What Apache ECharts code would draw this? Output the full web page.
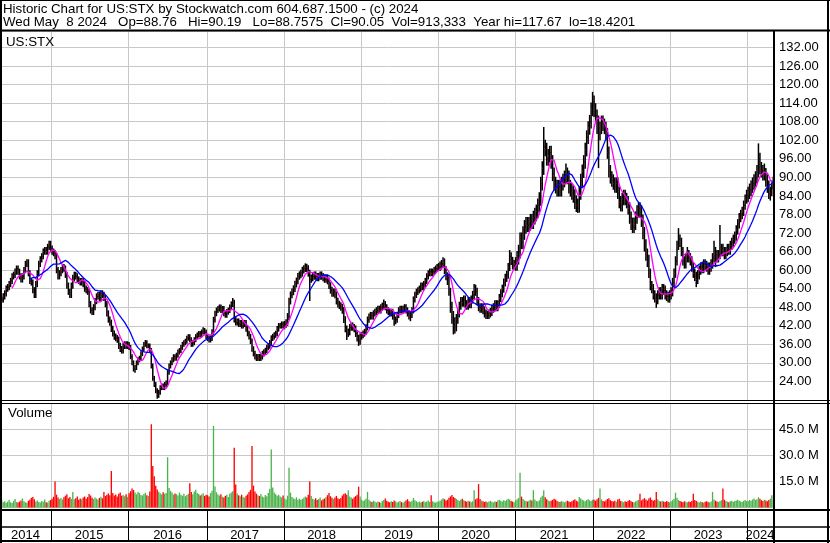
<!DOCTYPE html>
<html><head><meta charset="utf-8">
<script src="https://cdn.jsdelivr.net/npm/echarts@6/dist/echarts.min.js"></script>
<style>html,body{margin:0;padding:0;background:#fff}#c{width:830px;height:543px}</style>
</head><body><div id="c"></div><script>
// Weekly closes (USD), one line per year 2014..2024
const closePrices = [
50.5,51.5,52.5,54,54.5,55.5,56.5,58,58.5,59.5,60.5,59.5,58,57,58,60,62,62.5,59,56.5,56,53.5,52,55.5,59,62,63.5,64.5,66,66.5,66,67.5,68.5,67,
66,65.5,64.5,60,58,59,60,61,60.5,58.5,55,53,52,55,57.5,58.5,58,57,56.5,56,56.5,55.5,54,53.5,53,49,47,46.5,48,50,51.5,52,51,52.5,52,51,49,46,44,43,41,39.5,38.5,38,37.5,35.5,34.5,34,35.5,36,35.5,36,
35,32,30,28,28.5,30,31,31.5,33,34.5,36,36.5,35.5,35.5,34,29,25,23,21,19.5,20.5,22,22.5,22,23,23.5,27,29,30,31,32,31.5,32.5,33.5,34,35,36,36.5,37,38,38.5,37.5,36,36.5,37.5,38.5,39,39.5,39,40,40.5,40,38.5,
38,37.5,38,40,44,46,47,47.5,48,47,47.5,46,45.5,46.5,47,48,49,49.5,44,43,43.5,42.5,43,42,42.5,43,41,39.5,38.5,37,34.5,33,32,31.5,32,31.5,32,33,33.5,34,35,35.5,36.5,38,38.5,39,39.5,41,42,42,42.5,42,
42.5,43,45,50,52,53,54,55.5,56.5,58,58.5,59,60,60.5,61,60.5,59,57,57.5,58,58.5,58,57.5,58,58.5,58,57.5,57,57.5,56.5,55,53.5,52.5,53,52,50,49,48.5,48,47,44,41,39.5,40,41.5,42,41.5,41,39.5,38,37,38.5,
39,39.5,40,41.5,44,45,45.5,45,46,46.5,47,47.5,47,48,48.5,49,48,47,46.5,46,46.5,45,43.5,44,45.5,47,47.5,47,47.5,48,47,46,45,45.5,47,50.5,52,53,53.5,54,55,54.5,55.5,56.5,58,59,59.5,59,59.5,60,60.5,61,
61,61.5,62,62.5,60,58,57.5,53,48,45,42,41.5,44,46,48.5,50,49.5,50.5,49,48.5,50,49,50.5,52,54,53,50,48,47.5,48,47,46,45.5,45.5,46,46.5,47.5,48,49,48,49,51,52.5,54,56,57.5,58.5,61,64.5,63,61.5,62,
62,64,66,70,69,72,74,75,74.5,75,76,75.5,77,78,79,81,83,88,93,100,99,96,97,98,95,91,88,87,86,87,86,88,89,90,91,90,87,86,85,84,82,81,80,85,89,92,95,99,103,106,108,112,114,
112,110,108,104,106,108,107,106,104,98,92,90,89,88,87,88,85,82,81,83,84,83,82,80,77,75,74,75,77,79,80,79,76,72,68,65,63,59,55,54,52,51,50.5,52,53,52,54,53.5,52,51.5,51,52,
53,56,59,63,68,70,69,66,63,62,64,65,64,63,61,59,58,57,58.5,60,61,60.5,62,61.5,61,60,61,62,64,66,65,64,65,66,67,66,65,66,67,66.5,68,69,70,71,73,75,77,78,79,81,83,84,
85,86,87,88,89,90,92,96,93,92,91,91,89,87,85,85,87,90.05
];
// Weekly highs
const highPrices = [
51.5,52.5,53.5,55,55.5,56.5,57.5,59,59.5,60.5,61.5,61.5,60.5,59,59,61,63,63.5,63.5,60,57.5,57,54.5,56.5,60,63,64.5,65.5,67,67.5,67.5,68.5,69.5,69.5,
68,67,66.5,65.5,61,60,61,62,62,61.5,59.5,56,54,56,58.5,59.5,59.5,59,58,57.5,57.5,57.5,56.5,55,54.5,54,50,48,49,51,52.5,53,53,53.5,53.5,53,52,50,47,45,44,42,40.5,39.5,39,38.5,36.5,35.5,36.5,37,37,37,
36.8,35.8,32.8,30.8,29.3,30.8,31.8,32.3,33.8,35.3,36.8,37.4,37.3,36.3,36.3,34.8,29.8,25.8,23.8,21.8,21.3,22.8,23.3,23.3,23.8,24.3,27.8,29.8,30.8,31.8,32.8,32.8,33.3,34.3,34.8,35.8,36.8,37.3,37.8,38.8,39.3,39.3,38.3,37.3,38.3,39.3,39.8,40.3,40.3,40.8,41.5,41.3,40.8,
39.4,38.9,38.9,40.9,44.9,46.9,47.9,48.4,48.9,48.9,48.4,48.4,46.9,47.4,47.9,48.9,49.9,51,50.4,44.9,44.4,44.4,43.9,43.9,43.4,43.9,43.9,41.9,40.4,39.4,37.9,35.4,33.9,32.9,32.9,32.9,32.9,33.9,34.4,34.9,35.9,36.4,37.4,38.9,39.4,39.9,40.4,41.9,42.9,42.9,43.4,43.4,
43.6,44.1,46.1,51.1,53.1,54.1,55.1,56.6,57.6,59.1,59.6,60.1,61.1,61.6,62.2,62.1,61.6,60.1,58.6,59.1,59.6,59.6,59.1,59.1,59.6,59.6,59.1,58.6,58.6,58.6,57.6,56.1,54.6,54.1,54.1,53.1,51.1,50.1,49.6,49.1,48.1,45.1,42.1,41.1,42.6,43.1,43.1,42.6,42.1,40.6,39.1,39.6,
40,40.5,41,42.5,45,46,46.5,46.5,47,47.5,48,48.5,48.5,49,49.5,50.5,50,49,48,47.5,47.5,47.5,46,45,46.5,48,48.5,48.5,48.5,49,49,48,47,46.5,48,51.5,53,54,54.5,55,56,56,56.5,57.5,59,60,60.5,60.5,60.5,61,61.5,62,
62.3,62.8,63.3,64.2,63.8,61.3,59.3,58.8,54.3,49.8,46.8,44.8,45.8,47.3,49.8,51.3,51.3,51.8,51.8,50.3,51.3,51.3,51.8,53.3,55.5,55.3,54.3,51.3,49.3,49.3,49.3,48.3,47.3,46.8,47.3,47.8,48.8,49.3,50.3,50.3,50.3,52.3,53.8,55.3,57.3,58.8,59.8,62.3,66.5,65.8,64.3,63.3,
64.2,66.2,68.2,72.2,72.2,74.2,76.2,77.2,77.2,77.2,78.2,78.2,79.2,80.2,81.2,83.2,85.2,90.2,95.2,106.3,102.2,101.2,99.2,100.2,100.2,97.2,93.2,90.2,89.2,89.2,89.2,90.2,91.2,92.2,94.5,93.2,92.2,89.2,88.2,87.2,86.2,84.2,83.2,87.2,91.2,94.2,97.2,101.2,105.2,108.2,110.2,114.2,117.67,
116.5,114,112,110,108,110,110,109,108,106,100,94,92,91,90,90,90,87,84,85,86,86,85,84,82,79,77,77,79,81,82,82,81,78,74,70,67,65,60.5,56.5,55.5,53.5,52.5,53.5,54.5,54.5,55.5,55.5,55,53.5,53,53.5,
54.5,57.5,60.5,64.5,69.5,73.6,71.5,70.5,67.5,64.5,65.5,67.5,66.5,65.5,64.5,62.5,60.5,59.5,60,61.5,62.5,62.5,63.5,63.5,63,62.5,62.5,63.5,65.5,69.5,67.5,66.5,66.5,74.6,68.5,68.5,67.5,67.5,68.5,68.5,69.5,70.5,71.5,72.5,74.5,76.5,78.5,79.5,80.5,82.5,84.5,86,
87,88,89,90,91,92,94,101,98,95,94,94.5,93,91,89,87,89,90.19
];
// Weekly lows
const lowPrices = [
49.5,49.5,50.5,51.5,53,53.5,54.5,55.5,57,57.5,58.5,58.5,57,56,56,57,59,61,58,55.5,55,52.5,51,51,54.5,58,61,62.5,63.5,65,65,65,66.5,66,
65,64.5,63.5,59,57,57,58,59,59.5,57.5,54,52,51,51,54,56.5,57,56,55.5,55,55,54.5,53,52.5,52,48,46,45.5,45.5,47,49,50.5,50,50,51,50,48,45,43,42,40,38.5,37.5,37,36.5,34.5,33.5,33,33,34.5,34.5,34.5,
34.2,31.2,29.2,27.2,26.8,27.7,29.2,30.2,30.7,32.2,33.7,35.2,34.7,34.7,33.2,28.2,24.2,22.2,20.2,18.42,18.7,19.7,21.2,21.2,21.2,22.2,22.7,26.2,28.2,29.2,30.2,30.7,30.7,31.7,32.7,33.2,34.2,35.2,35.7,36.2,37.2,36.7,35.2,35.2,35.7,36.7,37.7,38.2,38.2,38.2,39.2,39.2,37.7,
37.1,36.6,36.6,37.1,39.1,43.1,45.1,46.1,46.6,46.1,46.1,45.1,44.6,44.6,45.6,46.1,47.1,48.1,43.1,42.1,42.1,41.6,41.6,41.1,41.1,41.6,40.1,38.6,37.6,36.1,33.6,32.1,31.1,30.6,30.6,30.6,30.6,31.1,32.1,32.6,33.1,34.1,34.6,35.6,37.1,37.6,38.1,38.6,40.1,41.1,41.1,41.1,
40.9,41.4,41.9,43.9,48.9,50.9,51.9,52.9,54.4,55.4,56.9,57.4,57.9,58.9,59.4,59.4,57.9,50,55.9,56.4,56.9,56.9,56.4,56.4,56.9,56.9,56.4,55.9,55.9,55.4,53.9,52.4,51.4,51.4,50.9,48.9,47.9,47.4,46.9,45.9,42.9,39.9,37.4,38.4,38.9,40.4,40.4,39.9,38.4,36.9,35.5,35.9,
37.5,38,38.5,39,40.5,43,44,44,44,45,45.5,46,46,46,47,47.5,47,46,45.5,45,45,44,42,42.5,43,44.5,46,46,46,46.5,46,45,44,43.5,44.5,46,49.5,51,52,52.5,53,53.5,53.5,54.5,55.5,57,58,58,58,58.5,59,59.5,
59.7,59.7,60.2,60.7,58.7,56.7,55.2,51.7,46.2,42.7,39.2,39.5,40.2,42.7,44.7,47.2,48.2,48.2,47.7,47.2,47.2,47.7,47.7,49.2,50.7,51.7,48.7,46.7,46.2,46.2,45.7,44.7,44.2,44.2,44.2,44.7,45.2,46.2,46.7,46.7,46.7,47.7,49.7,51.2,52.7,54.7,56.2,57.2,59.7,61.7,60.2,60.2,
59.8,59.8,61.8,63.8,66.8,66.8,69.8,71.8,72.3,72.3,72.8,73.3,73.3,74.8,75.8,76.8,78.8,80.8,85.8,90.8,96.8,93.8,93.8,94.8,92.8,88.8,85.8,84.8,83.8,83.8,83.8,83.8,85.8,86.8,87.8,87.8,84.8,83.8,82.8,81.8,79.8,78.8,78.5,78.6,82.8,86.8,89.8,92.8,96.8,100.8,103.8,105.8,109.8,
109.5,108,104,93,102,104,105,104,102,96,90,88,87,86,85,85,83,80,79,79,81,81,80,78,75,73,72,72,73,75,77,77,74,70,66,63,61,57.5,53.5,52.5,50.5,49.5,47.8,49,50.5,50.5,50.5,52,50.5,50,49.5,49.5,
50.5,51.5,54.5,57.5,61.5,66.5,67.5,64.5,61.5,60.5,60.5,62.5,62.5,61.5,59.5,57.5,56.5,54.5,55.5,57,58.5,59,59,60,59.5,58.5,58.5,59.5,60.5,62.5,61,62.5,62.5,63.5,64.5,64.5,63.5,63.5,64.5,65,65,66.5,67.5,68.5,69.5,71.5,73.5,75.5,76.5,77.5,79.5,81.5,
82,83,84,85,86,87,88,90,91,90,89,89,87,85,83,82.5,84,86
];
// Peak daily volume of each week (millions of shares)
const volumesM = [
4.2,3.1,3.6,2.8,3.3,4.5,3.0,2.6,3.8,4.9,3.2,2.9,3.4,4.1,5.2,3.6,3.0,2.7,3.9,4.4,5.6,6.1,4.8,3.5,4.0,3.2,2.9,3.7,3.3,4.6,3.1,2.8,3.9,4.3,
5.1,6.2,15.0,7.4,5.8,4.9,5.5,4.6,5.9,6.8,7.6,5.3,6.1,5.0,9.0,4.7,5.4,6.3,4.5,5.2,4.8,5.7,6.4,5.0,6.0,7.8,6.9,5.6,4.9,5.8,5.1,4.6,5.5,6.2,5.3,9.0,6.6,7.3,8.1,7.0,21.0,8.4,6.9,7.5,6.3,7.9,8.6,6.8,7.2,6.5,7.7,6.1,
8.2,9.4,11.0,10.1,8.7,7.6,9.0,8.3,7.2,6.9,7.8,8.5,7.1,6.6,9.3,48.0,24.0,18.0,12.5,10.4,9.1,8.2,7.5,8.8,7.9,8.4,29.0,11.2,9.6,8.7,7.4,8.1,7.7,6.9,8.6,7.3,6.8,7.9,6.5,7.2,8.0,14.0,8.9,7.6,9.2,10.3,8.4,7.8,6.9,7.5,8.2,6.7,7.4,
7.1,6.4,8.3,9.6,47.0,12.1,8.8,7.5,6.9,7.7,6.2,5.8,6.7,7.3,6.0,7.9,8.6,9.4,34.5,13.2,8.1,7.0,6.5,7.4,6.1,5.7,6.8,7.6,8.9,10.2,35.5,12.6,9.3,8.0,7.1,6.6,7.8,6.3,5.9,7.2,6.5,8.4,10.8,33.5,11.5,8.7,7.6,6.8,7.3,6.4,5.8,6.9,
5.2,4.6,6.8,23.0,8.6,6.1,5.3,4.8,5.9,4.5,5.1,4.4,4.9,5.6,6.4,5.8,7.3,15.0,6.7,5.0,4.6,5.4,4.3,4.9,5.7,4.1,4.8,5.2,6.0,7.1,8.4,6.5,5.6,4.9,5.8,6.7,5.3,4.8,5.5,6.9,7.8,8.2,7.3,10.0,6.4,5.7,5.1,5.9,6.6,7.4,12.0,6.3,
4.6,3.8,4.2,5.1,9.0,4.4,3.6,3.2,3.9,3.4,2.9,3.5,3.1,2.8,3.7,4.3,5.2,3.9,3.3,3.0,3.6,3.2,4.1,3.5,2.9,3.3,3.8,3.1,2.7,3.4,4.0,4.8,3.6,3.2,3.9,5.5,4.2,3.6,3.1,3.4,2.9,3.3,3.7,3.0,3.5,4.0,3.2,7.0,3.6,3.1,2.8,3.3,
3.4,3.9,4.6,5.3,4.8,4.1,4.5,5.6,6.4,7.2,6.1,5.5,4.9,4.3,3.8,4.4,5.0,4.2,3.7,3.3,3.9,3.5,3.1,3.6,10.0,4.7,5.3,13.5,4.9,4.0,3.6,3.2,3.5,3.0,3.4,3.8,3.3,2.9,3.6,3.2,4.1,4.5,3.9,3.5,4.2,3.7,4.4,5.0,4.6,3.8,3.4,3.1,
4.2,4.8,5.5,20.0,6.3,4.9,4.1,3.7,3.4,3.9,4.5,4.0,10.0,4.6,3.8,3.5,4.2,5.7,6.8,10.0,5.9,4.7,4.1,3.6,3.9,4.4,5.1,4.6,3.8,3.4,3.2,3.7,3.3,3.0,3.5,3.9,3.4,3.1,3.6,4.2,4.7,3.9,3.5,6.1,5.2,4.4,4.0,3.6,4.3,4.8,4.1,3.7,4.5,
4.4,3.9,4.8,5.6,11.0,4.7,3.8,3.5,4.1,4.9,5.3,4.2,3.7,3.4,3.9,3.3,4.6,5.1,3.8,3.4,3.1,3.6,3.2,3.9,4.3,3.6,3.2,2.9,3.5,4.0,4.4,8.0,4.1,4.8,5.4,4.6,4.0,5.2,5.8,4.5,3.9,4.3,9.0,4.7,3.8,3.4,3.9,3.5,3.2,3.7,3.3,3.0,
3.6,4.2,5.1,8.5,5.6,4.4,3.8,3.4,3.1,3.6,3.3,3.0,3.5,3.2,3.8,8.0,4.3,3.7,3.3,3.0,3.4,3.1,2.8,3.3,3.6,3.2,2.9,3.5,9.0,4.6,3.9,3.4,3.1,3.7,4.2,11.0,4.5,3.8,3.4,3.0,3.6,3.9,3.3,3.7,4.1,4.5,3.9,3.5,3.2,3.8,4.3,3.6,
3.8,4.3,3.9,4.6,5.2,4.4,4.8,5.9,5.1,4.2,3.8,4.5,4.0,3.6,4.3,5.0,7.0,4.6
];
const headerLine1 = 'Historic Chart for US:STX by Stockwatch.com 604.687.1500 - (c) 2024';
const headerLine2 = 'Wed May  8 2024   Op=88.76   Hi=90.19   Lo=88.7575  Cl=90.05  Vol=913,333  Year hi=117.67  lo=18.4201';
const symbolLabel = 'US:STX';
const volumeLabel = 'Volume';
const startWeek = Date.UTC(2014, 4, 9);
const shortMA = 8, longMA = 20;

// week categories (Fridays)
const weeks = closePrices.map((_, i) => new Date(startWeek + i * 7 * 86400000).toISOString().slice(0, 10));
const yearStart = new Set();
const yearMid = new Set();
let segStart = 0;
for (let i = 1; i <= weeks.length; i++) {
  if (i === weeks.length || weeks[i].slice(0, 4) !== weeks[i - 1].slice(0, 4)) {
    if (i < weeks.length) yearStart.add(i);
    yearMid.add(Math.floor((segStart + i - 1) / 2));
    segStart = i;
  }
}
function sma(arr, n) {
  return arr.map((v, i) => {
    if (i < n - 1) return null;
    let s = 0; for (let k = i - n + 1; k <= i; k++) s += arr[k];
    return +(s / n).toFixed(3);
  });
}
const FONT = '"Liberation Sans", Arial, sans-serif';
const isYearStart = (idx) => yearStart.has(idx);
const baseX = (grid, split) => ({
  type: 'category', gridIndex: grid, data: weeks, boundaryGap: true,
  axisLine: { show: false }, axisTick: { show: false }, axisLabel: { show: false },
  splitLine: { show: true, interval: isYearStart, lineStyle: { color: split, width: 1 } }
});
const xLabelAxis = baseX(3, '#000');
xLabelAxis.position = 'top';
xLabelAxis.axisLabel = {
  show: true, inside: true, margin: 2, interval: (idx) => yearMid.has(idx),
  formatter: (v) => v.slice(0, 4), color: '#000', fontSize: 13, fontFamily: FONT, verticalAlign: 'top'
};

const chart = echarts.init(document.getElementById('c'), null, { renderer: 'canvas' });
const lineEl = (x1, y1, x2, y2, w) => ({ type: 'line', z: 100, shape: { x1, y1, x2, y2 }, style: { stroke: '#000', lineWidth: w } });
chart.setOption({
  animation: false,
  backgroundColor: '#fff',
  grid: [
    { left: 1, right: 56, top: 31, height: 369 },
    { left: 1, right: 56, top: 403.5, height: 104 },
    { left: 1, right: 56, top: 510, height: 17 },
    { left: 1, right: 56, top: 527, height: 14 }
  ],
  xAxis: [baseX(0, '#c8c8c8'), baseX(1, '#c8c8c8'), baseX(2, '#000'), xLabelAxis],
  yAxis: [
    { type: 'value', gridIndex: 0, position: 'right', min: 18, max: 18 + 369 / 3.0917, interval: 6,
      axisLine: { show: false }, axisTick: { show: false },
      axisLabel: { margin: 5, formatter: (v) => v.toFixed(2), showMinLabel: false, showMaxLabel: false, color: '#000', fontSize: 13, fontFamily: FONT },
      splitLine: { lineStyle: { color: '#c8c8c8' } } },
    { type: 'value', gridIndex: 1, position: 'right', min: 0, max: 60, interval: 15,
      axisLine: { show: false }, axisTick: { show: false },
      axisLabel: { margin: 5, formatter: (v) => v.toFixed(1) + ' M', showMinLabel: false, showMaxLabel: false, color: '#000', fontSize: 13, fontFamily: FONT },
      splitLine: { lineStyle: { color: '#c8c8c8' } } },
    { type: 'value', gridIndex: 2, show: false },
    { type: 'value', gridIndex: 3, show: false }
  ],
  series: [
    { type: 'custom', xAxisIndex: 0, yAxisIndex: 0, clip: true, z: 2,
      data: weeks.map((w, i) => [i, highPrices[i], lowPrices[i], closePrices[i]]),
      encode: { x: 0, y: [1, 2, 3] },
      renderItem: function (params, api) {
        const i = api.value(0);
        const h = api.coord([i, api.value(1)]);
        const l = api.coord([i, api.value(2)]);
        const c = api.coord([i, api.value(3)]);
        return { type: 'group', children: [
          { type: 'line', shape: { x1: h[0], y1: h[1], x2: l[0], y2: l[1] }, style: { stroke: '#000', lineWidth: 1.5 } },
          { type: 'rect', shape: { x: c[0] + 0.3, y: c[1] - 0.6, width: 1.3, height: 1.3 }, style: { fill: '#ff0000' } }
        ] };
      } },
    { type: 'line', xAxisIndex: 0, yAxisIndex: 0, data: sma(closePrices, shortMA), symbol: 'none', z: 3,
      lineStyle: { color: '#ff00ff', width: 1.3 } },
    { type: 'line', xAxisIndex: 0, yAxisIndex: 0, data: sma(closePrices, longMA), symbol: 'none', z: 4,
      lineStyle: { color: '#0000ff', width: 1.3 } },
    { type: 'bar', xAxisIndex: 1, yAxisIndex: 1, data: volumesM, barCategoryGap: '10%',
      itemStyle: { color: (p) => {
        const i = p.dataIndex; const prev = i > 0 ? closePrices[i - 1] : closePrices[0];
        return closePrices[i] < prev ? '#ff0000' : '#4db34d';
      } } }
  ],
  graphic: [
    { type: 'text', z: 100, x: 3, y: 9.3, style: { text: headerLine1, fill: '#000', font: '13.3px ' + FONT, verticalAlign: 'middle' } },
    { type: 'text', z: 100, x: 3, y: 22.8, style: { text: headerLine2, fill: '#000', font: '13.3px ' + FONT, verticalAlign: 'middle' } },
    { type: 'text', z: 100, x: 6, y: 42, style: { text: symbolLabel, fill: '#000', font: '13.3px ' + FONT, verticalAlign: 'middle' } },
    { type: 'text', z: 100, x: 8, y: 413, style: { text: volumeLabel, fill: '#000', font: '13.3px ' + FONT, verticalAlign: 'middle' } },
    lineEl(0, 0.5, 830, 0.5, 1),
    lineEl(0, 30.5, 830, 30.5, 2),
    lineEl(1, 0, 1, 543, 2),
    lineEl(828, 0, 828, 543, 2),
    lineEl(774, 30, 774, 543, 2),
    lineEl(0, 400.5, 830, 400.5, 1),
    lineEl(0, 403.5, 830, 403.5, 1),
    lineEl(0, 510, 830, 510, 2),
    lineEl(0, 527, 830, 527, 1.5),
    lineEl(0, 541, 830, 541, 2)
  ]
});
</script></body></html>
